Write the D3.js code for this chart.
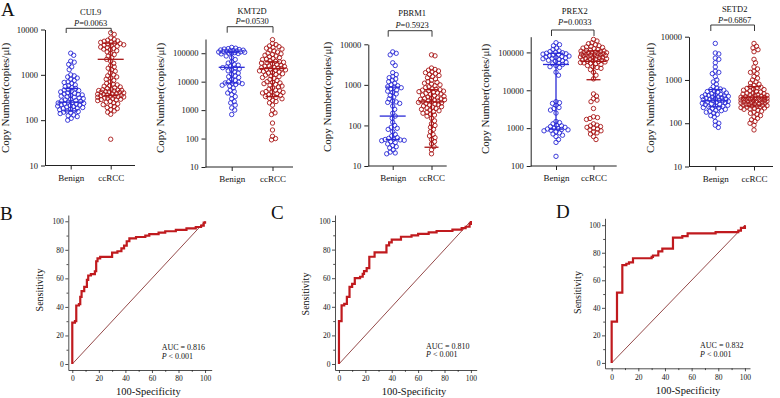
<!DOCTYPE html>
<html>
<head>
<meta charset="utf-8">
<script src="https://cdn.jsdelivr.net/npm/d3@7"></script>
<style>
  body { margin: 0; background: #fff; }
  text { font-family: "Liberation Serif", "Times New Roman", serif; fill: #111; }
</style>
</head>
<body>
<svg id="fig" width="780" height="398"></svg>
<script>
const genes = ["CUL9", "KMT2D", "PBRM1", "PREX2", "SETD2"];
const pValues = ["0.0063", "0.0530", "0.5923", "0.0033", "0.6867"];
const groups = ["Benign", "ccRCC"];

// copy numbers (copies/μl)
const cul9Benign = [3000, 2700, 2000, 1900, 1700, 1500, 1300, 1000, 950, 900, 850, 800, 750, 700, 680, 650, 600, 580, 550, 520, 500, 480, 460, 450, 430, 420, 400, 390, 380, 370, 360, 350, 340, 330, 320, 310, 300, 290, 280, 270, 265, 260, 250, 245, 240, 235, 230, 225, 220, 215, 210, 205, 200, 195, 190, 185, 180, 175, 170, 165, 160, 155, 150, 145, 140, 130, 125, 120, 110, 100];
const cul9Ccrcc = [8500, 7800, 6500, 6000, 5800, 5600, 5500, 5300, 5200, 5000, 4900, 4800, 4600, 4500, 4400, 4300, 4100, 4000, 3800, 3700, 3600, 3400, 3200, 3000, 2800, 2600, 2400, 2200, 2000, 1800, 1600, 1500, 1400, 1300, 1200, 1100, 1000, 950, 900, 850, 800, 750, 700, 650, 620, 600, 580, 560, 540, 520, 500, 480, 470, 460, 455, 450, 440, 430, 420, 415, 410, 400, 390, 380, 375, 370, 360, 350, 345, 340, 335, 330, 325, 320, 310, 305, 300, 290, 285, 280, 270, 260, 250, 240, 230, 220, 210, 200, 190, 180, 170, 160, 150, 135, 38];
const kmt2dBenign = [160000, 150000, 145000, 140000, 135000, 130000, 128000, 125000, 122000, 120000, 118000, 115000, 112000, 110000, 108000, 105000, 102000, 100000, 98000, 95000, 80000, 70000, 60000, 50000, 45000, 40000, 38000, 35000, 33000, 31000, 30000, 28000, 26000, 24000, 22000, 20000, 18000, 16000, 15000, 14000, 12000, 11000, 10000, 9500, 9000, 8800, 8500, 8000, 7500, 7000, 6000, 5000, 4500, 4000, 3500, 3000, 2500, 2000, 1800, 1500, 1200, 1000, 700];
const kmt2dCcrcc = [300000, 220000, 200000, 180000, 170000, 160000, 150000, 140000, 130000, 120000, 110000, 100000, 95000, 90000, 85000, 80000, 75000, 70000, 65000, 62000, 60000, 55000, 52000, 50000, 48000, 46000, 45000, 42000, 40000, 38000, 36000, 35000, 34000, 32000, 31000, 30000, 29000, 28000, 27000, 26000, 25000, 24000, 23000, 22000, 21000, 20000, 19000, 18000, 17000, 16000, 15000, 14000, 13000, 12000, 11000, 10000, 9500, 9000, 8500, 8000, 7500, 7000, 6500, 6000, 5500, 5000, 4800, 4500, 4300, 4200, 4000, 3800, 3500, 3300, 3200, 3000, 2800, 2600, 2500, 2200, 2000, 1800, 1500, 1000, 800, 700, 350, 200, 120, 100, 90];
const pbrm1Benign = [6500, 6000, 5500, 3500, 3000, 2000, 1800, 1600, 1500, 1400, 1300, 1200, 1100, 1000, 950, 900, 880, 850, 800, 750, 700, 650, 600, 550, 500, 450, 400, 380, 370, 350, 300, 250, 200, 170, 150, 120, 100, 90, 85, 80, 70, 60, 55, 50, 48, 46, 45, 44, 43, 42, 40, 38, 35, 32, 30, 28, 25, 22, 21, 20];
const pbrm1Ccrcc = [5500, 5200, 2600, 2400, 2300, 2200, 2100, 2000, 1900, 1800, 1700, 1600, 1500, 1400, 1300, 1200, 1150, 1100, 1050, 1000, 950, 900, 850, 800, 780, 760, 740, 720, 700, 680, 660, 640, 620, 600, 580, 560, 540, 520, 500, 480, 470, 460, 450, 440, 430, 420, 410, 400, 390, 380, 370, 360, 350, 340, 330, 320, 300, 290, 280, 270, 260, 250, 240, 230, 220, 210, 200, 190, 180, 170, 150, 130, 110, 100, 90, 80, 70, 60, 55, 50, 45, 40, 35, 30, 25, 20];
const prex2Benign = [180000, 160000, 150000, 130000, 120000, 110000, 105000, 100000, 98000, 95000, 92000, 90000, 88000, 85000, 82000, 80000, 78000, 76000, 74000, 72000, 70000, 68000, 65000, 62000, 60000, 58000, 55000, 52000, 50000, 48000, 45000, 42000, 40000, 30000, 25000, 5000, 4700, 4500, 4000, 3500, 3300, 3000, 2500, 1500, 1400, 1300, 1200, 1150, 1100, 1050, 1000, 980, 950, 920, 900, 880, 850, 800, 750, 700, 650, 600, 500, 420, 180];
const prex2Ccrcc = [220000, 200000, 180000, 170000, 160000, 150000, 145000, 140000, 135000, 130000, 125000, 120000, 115000, 112000, 110000, 108000, 105000, 102000, 100000, 98000, 97000, 96000, 94000, 92000, 90000, 88000, 87000, 86000, 84000, 83000, 82000, 80000, 78000, 76000, 74000, 73000, 72000, 70000, 68000, 67000, 66000, 64000, 62000, 60000, 58000, 57000, 56000, 54000, 53000, 52000, 50000, 48000, 45000, 42000, 40000, 38000, 35000, 30000, 25000, 20000, 8000, 7000, 6000, 5500, 5000, 3300, 2000, 1900, 1800, 1700, 1300, 1200, 1150, 1100, 1050, 1000, 950, 900, 850, 800, 750, 700, 600, 500];
const setd2Benign = [7000, 4200, 4000, 3200, 3000, 2500, 2000, 1600, 1500, 1400, 1200, 1000, 900, 800, 700, 650, 620, 600, 580, 560, 540, 520, 500, 480, 460, 455, 450, 440, 430, 420, 410, 405, 400, 390, 380, 370, 365, 360, 350, 340, 335, 330, 320, 310, 305, 300, 290, 280, 275, 270, 260, 250, 245, 240, 230, 225, 220, 210, 200, 195, 190, 180, 170, 160, 150, 140, 110, 100, 90, 80];
const setd2Ccrcc = [7000, 6000, 5500, 5000, 4500, 3000, 2500, 2000, 1800, 1600, 1500, 1400, 1200, 1100, 1000, 900, 850, 800, 750, 700, 680, 660, 640, 620, 600, 580, 560, 540, 520, 500, 490, 480, 470, 460, 450, 440, 430, 420, 410, 400, 395, 390, 385, 380, 375, 370, 365, 360, 355, 350, 345, 340, 335, 330, 325, 320, 315, 310, 305, 300, 295, 290, 285, 280, 275, 270, 265, 260, 255, 250, 245, 240, 235, 230, 225, 220, 215, 210, 200, 190, 180, 170, 160, 150, 140, 130, 120, 110, 100, 90, 70];

const benignData = [cul9Benign, kmt2dBenign, pbrm1Benign, prex2Benign, setd2Benign];
const ccrccData = [cul9Ccrcc, kmt2dCcrcc, pbrm1Ccrcc, prex2Ccrcc, setd2Ccrcc];

// [centre, lower, upper] of the error bars
const benignBars = [[250, 160, 500], [32000, 9000, 110000], [170, 45, 880], [48000, 940, 95000], [330, 240, 600]];
const ccrccBars = [[2200, 350, 5000], [29000, 3000, 50000], [380, 29, 760], [58000, 19000, 110000], [400, 250, 700]];

// ROC curves: [100-Specificity, Sensitivity] corners of each step curve
const rocB = [[0,0],[0,29],[2,29],[2,30],[3,30],[3,41],[5,41],[5,42],[6,42],[6,47],[7,47],[7,51],[9,51],[9,54],[11,54],[11,59],[12,59],[12,62],[14,62],[14,63],[17,63],[17,65],[18,65],[18,72],[19,72],[19,74],[21,74],[21,75],[30,75],[30,78],[34,78],[34,79],[37,79],[37,81],[39,81],[39,83],[41,83],[41,86],[43,86],[43,88],[48,88],[48,89],[55,89],[55,90],[58,90],[58,91],[65,91],[65,92],[70,92],[70,93],[78,93],[78,94],[86,94],[86,95],[93,95],[93,96],[97,96],[97,97],[99,97],[99,99],[100,99],[100,100]];
const rocC = [[0,0],[0,30],[2,30],[2,41],[4,41],[4,42],[6,42],[6,47],[8,47],[8,54],[10,54],[10,56],[12,56],[12,60],[16,60],[16,61],[18,61],[18,63],[19,63],[19,65],[21,65],[21,67],[23,67],[23,75],[27,75],[27,78],[36,78],[36,83],[38,83],[38,85],[40,85],[40,87],[47,87],[47,89],[55,89],[55,90],[60,90],[60,91],[68,91],[68,92],[74,92],[74,93],[86,93],[86,94],[93,94],[93,95],[96,95],[96,96],[99,96],[99,98],[100,98],[100,100]];
const rocD = [[0,0],[0,30],[4,30],[4,51],[8,51],[8,71],[11,71],[11,72],[13,72],[13,73],[16,73],[16,76],[30,76],[30,77],[31,77],[31,78],[35,78],[35,81],[38,81],[38,83],[46,83],[46,91],[53,91],[53,92],[57,92],[57,94],[78,94],[78,95],[95,95],[95,96],[97,96],[97,98],[100,98],[100,100]];
const rocCurves = [rocB, rocC, rocD];
const aucValues = ["0.816", "0.810", "0.832"];
const rocLetters = ["B", "C", "D"];

const BLUE = "#2a2ad6", RED = "#a81616";

const topLayout = [
  {axisX: 45,    endX: 135,   xB: 70.7,  xC: 110.7, yMin: 10,  yMax: 1e4,    yTop: 29.5, yBot: 165.5, brY: 28.3, legY: 33,   titleY: 14.8, pY: 25.5, labX: 5,     labY: 98},
  {axisX: 205.5, endX: 293,   xB: 231.7, xC: 272.5, yMin: 10,  yMax: 316228, yTop: 39,   yBot: 167,   brY: 26.7, legY: 32.7, titleY: 14,   pY: 23.5, labX: 160,   labY: 98},
  {axisX: 368.3, endX: 446.7, xB: 392.7, xC: 431.5, yMin: 10,  yMax: 1e4,    yTop: 44.3, yBot: 166,   brY: 30.7, legY: 36.7, titleY: 16.2, pY: 27.7, labX: 326.7, labY: 97},
  {axisX: 530.7, endX: 616.7, xB: 556,   xC: 593.5, yMin: 100, yMax: 260000, yTop: 36.7, yBot: 166,   brY: 30,   legY: 36,   titleY: 13.5, pY: 25,   labX: 485,   labY: 99},
  {axisX: 689,   endX: 773,   xB: 715.3, xC: 754,   yMin: 10,  yMax: 1e4,    yTop: 36.7, yBot: 166.5, brY: 25,   legY: 31,   titleY: 12,   pY: 22.5, labX: 650,   labY: 98}
];

const rocLayout = [
  {x0: 68.3, x1: 211.7, xd: [-3, 105],   y0: 370,   y1: 215,   yd: [-4.2, 104.4], lx: 0,   ly: 219.5, sensX: 39,    sensY: 290,   specX: 148.3, specY: 395, aucX: 161.7, aucY: 350,   pY: 359.3},
  {x0: 335,  x1: 476.7, xd: [-3, 104.4], y0: 370,   y1: 215,   yd: [-4.2, 104.2], lx: 271, ly: 219,   sensX: 305,   sensY: 294,   specX: 414,   specY: 395, aucX: 426,   aucY: 349,   pY: 357.3},
  {x0: 605,  x1: 750,   xd: [-5, 103.8], y0: 368.3, y1: 218.3, yd: [-3.9, 105],   lx: 556, ly: 218.3, sensX: 577.5, sensY: 292.5, specX: 688,   specY: 394, aucX: 700,   aucY: 347.7, pY: 356.7}
];

const svg = d3.select("#fig");

// beeswarm kept inside ±maxW; dots may overlap a little when the band is full
function swarm(values, y, cx, r, maxW) {
  const placed = [];
  const minD = 2 * r * 0.82;
  values.slice().sort((a, b) => b - a).forEach(v => {
    const py = y(v);
    let best = 0, bestD = -1;
    for (let k = 0; ; k++) {
      const cand = k === 0 ? 0 : (k % 2 ? 1 : -1) * Math.ceil(k / 2) * 0.5;
      if (Math.abs(cand) > maxW) break;
      let dmin = Infinity;
      for (const p of placed) {
        const d = Math.hypot(p.x - cand, p.y - py);
        if (d < dmin) dmin = d;
      }
      if (dmin >= minD) { best = cand; break; }
      if (dmin > bestD) { bestD = dmin; best = cand; }
    }
    placed.push({x: best, y: py});
  });
  return placed.map(p => ({cx: cx + p.x, cy: p.y}));
}

function drawDots(g, values, y, cx, color) {
  g.append("g").selectAll("circle")
    .data(swarm(values, y, cx, 2.2, 13))
    .join("circle")
    .attr("cx", d => d.cx)
    .attr("cy", d => d.cy)
    .attr("r", 2.2)
    .attr("fill", "none")
    .attr("stroke", color)
    .attr("stroke-width", 0.9);
}

function drawBar(g, bar, y, cx, color) {
  const [mid, lo, hi] = bar;
  const b = g.append("g").attr("stroke", color).attr("stroke-width", 1.3);
  b.append("line").attr("x1", cx).attr("x2", cx).attr("y1", y(lo)).attr("y2", y(hi));
  b.append("line").attr("x1", cx - 13).attr("x2", cx + 13).attr("y1", y(mid)).attr("y2", y(mid));
  [lo, hi].forEach(v => b.append("line").attr("x1", cx - 7).attr("x2", cx + 7).attr("y1", y(v)).attr("y2", y(v)));
}

function drawDotPanel(i) {
  const L = topLayout[i];
  const g = svg.append("g");
  const y = d3.scaleLog().domain([L.yMin, L.yMax]).range([L.yBot, L.yTop]);
  const x = d3.scalePoint().domain(groups).range([L.xB, L.xC]);

  const ticks = d3.range(Math.log10(L.yMin), Math.floor(Math.log10(L.yMax)) + 1).map(e => Math.pow(10, e));
  const ya = g.append("g")
    .attr("transform", `translate(${L.axisX},0)`)
    .call(d3.axisLeft(y).tickValues(ticks).tickFormat(d3.format("d")).tickSize(4).tickSizeOuter(0).tickPadding(3));
  ya.selectAll("text").style("font-size", "8.5px").style("font-family", "Liberation Serif");
  ya.selectAll("path,line").attr("stroke", "#222");

  const xa = g.append("g")
    .attr("transform", `translate(0,${L.yBot})`)
    .call(d3.axisBottom(x).tickSize(4).tickSizeOuter(0).tickPadding(5));
  xa.select(".domain").remove();
  xa.selectAll("line").attr("stroke", "#222");
  xa.selectAll("text").style("font-size", "9px").style("font-family", "Liberation Serif");
  g.append("line").attr("x1", L.axisX).attr("x2", L.endX).attr("y1", L.yBot).attr("y2", L.yBot).attr("stroke", "#222");

  drawDots(g, benignData[i], y, x("Benign"), BLUE);
  drawDots(g, ccrccData[i], y, x("ccRCC"), RED);
  drawBar(g, benignBars[i], y, x("Benign"), BLUE);
  drawBar(g, ccrccBars[i], y, x("ccRCC"), RED);

  // significance bracket
  const bl = L.xB - 4.5, br = L.xC + 0.5;
  g.append("path")
    .attr("d", `M${bl},${L.legY}V${L.brY}H${br}V${L.legY}`)
    .attr("fill", "none").attr("stroke", "#222").attr("stroke-width", 0.9);
  const mid = (L.xB + L.xC) / 2;
  g.append("text").attr("x", mid).attr("y", L.titleY).attr("text-anchor", "middle")
    .style("font-size", "8.5px").text(genes[i]);
  const pt = g.append("text").attr("x", mid).attr("y", L.pY).attr("text-anchor", "middle").style("font-size", "8.5px");
  pt.append("tspan").style("font-style", "italic").text("P");
  pt.append("tspan").text("=" + pValues[i]);

  g.append("text")
    .attr("transform", `translate(${L.labX + 4},${L.labY}) rotate(-90)`)
    .attr("text-anchor", "middle")
    .style("font-size", "11px")
    .text("Copy Number(copies/μl)");
}

function drawRocPanel(i) {
  const L = rocLayout[i];
  const g = svg.append("g");
  const x = d3.scaleLinear().domain(L.xd).range([L.x0, L.x1]);
  const y = d3.scaleLinear().domain(L.yd).range([L.y0, L.y1]);
  const major = d3.range(0, 101, 20), minor = d3.range(10, 100, 20);

  g.append("g").attr("transform", `translate(0,${L.y0})`)
    .call(d3.axisBottom(x).tickValues(major).tickSize(3).tickSizeOuter(0).tickPadding(3));
  g.append("g").attr("transform", `translate(0,${L.y0})`)
    .call(d3.axisBottom(x).tickValues(minor).tickSize(1.8).tickFormat("").tickSizeOuter(0))
    .select(".domain").remove();
  g.append("g").attr("transform", `translate(${L.x0},0)`)
    .call(d3.axisLeft(y).tickValues(major).tickSize(3).tickSizeOuter(0).tickPadding(1.5));
  g.append("g").attr("transform", `translate(${L.x0},0)`)
    .call(d3.axisLeft(y).tickValues(minor).tickSize(1.8).tickFormat("").tickSizeOuter(0))
    .select(".domain").remove();
  g.selectAll(".tick text").style("font-size", "7.5px").style("font-family", "Liberation Serif");
  g.selectAll("path,line").attr("stroke", "#222").attr("stroke-width", 0.8);

  g.append("line")
    .attr("x1", x(0)).attr("y1", y(0)).attr("x2", x(100)).attr("y2", y(100))
    .attr("stroke", "#7a1c1c").attr("stroke-width", 0.8);
  g.append("path")
    .datum(rocCurves[i])
    .attr("d", d3.line().x(d => x(d[0])).y(d => y(d[1])))
    .attr("fill", "none").attr("stroke", "#c01a1e").attr("stroke-width", 2.2)
    .attr("stroke-linejoin", "miter");

  g.append("text").attr("x", L.aucX).attr("y", L.aucY).style("font-size", "8px").text("AUC = " + aucValues[i]);
  const pt = g.append("text").attr("x", L.aucX).attr("y", L.pY).style("font-size", "8px");
  pt.append("tspan").style("font-style", "italic").text("P");
  pt.append("tspan").text(" < 0.001");

  g.append("text").attr("transform", `translate(${L.sensX + 3.5},${L.sensY}) rotate(-90)`)
    .attr("text-anchor", "middle").style("font-size", "10px").text("Sensitivity");
  g.append("text").attr("x", L.specX).attr("y", L.specY)
    .attr("text-anchor", "middle").style("font-size", "10.5px").text("100-Specificity");
  g.append("text").attr("x", L.lx).attr("y", L.ly).style("font-size", "19px").text(rocLetters[i]);
}

genes.forEach((_, i) => drawDotPanel(i));
rocCurves.forEach((_, i) => drawRocPanel(i));
svg.append("text").attr("x", 1).attr("y", 15.5).style("font-size", "19px").text("A");
</script>
</body>
</html>
